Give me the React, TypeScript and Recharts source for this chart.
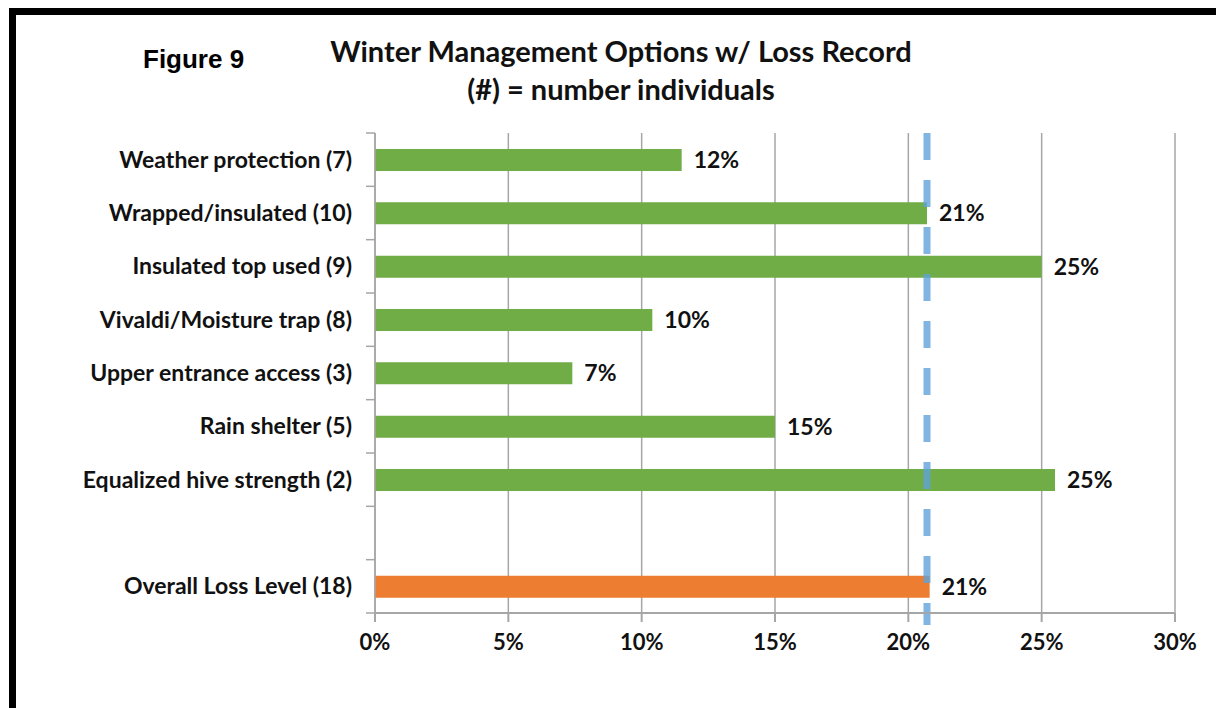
import {
  Bar,
  BarChart,
  CartesianGrid,
  Cell,
  LabelList,
  ReferenceLine,
  XAxis,
  YAxis,
} from "recharts";

const categories = [
  "Weather protection (7)",
  "Wrapped/insulated (10)",
  "Insulated top used (9)",
  "Vivaldi/Moisture trap (8)",
  "Upper entrance access (3)",
  "Rain shelter (5)",
  "Equalized hive strength (2)",
  "",
  "Overall Loss Level (18)",
];

// loss rate, percent
const lossPct = [11.5, 20.7, 25.0, 10.4, 7.4, 15.0, 25.5, null, 20.8];
const pctLabels = ["12%", "21%", "25%", "10%", "7%", "15%", "25%", "", "21%"];

const xTicks = [0, 5, 10, 15, 20, 25, 30];
const overallLevel = 20.7;

const chartData = categories.map((name, i) => ({
  name,
  value: lossPct[i],
  label: pctLabels[i],
}));

const FONT = "Lato, 'Open Sans', sans-serif";
const AXIS_GREY = "#a6a6a6";
const LABEL_GAP = 23;

// excel puts the category ticks between the bars, not on them
function CategoryTick(props: any) {
  const { x, y, payload, index } = props;
  const half = payload.offset ?? 0;
  const axisX = x + LABEL_GAP;
  const last = index === categories.length - 1;
  return (
    <g>
      <line x1={axisX - 9} x2={axisX} y1={y - half} y2={y - half} stroke={AXIS_GREY} strokeWidth={1.5} />
      {last && (
        <line x1={axisX - 9} x2={axisX} y1={y + half} y2={y + half} stroke={AXIS_GREY} strokeWidth={1.5} />
      )}
      <text
        x={x}
        y={y}
        dy="0.355em"
        textAnchor="end"
        fill="#111"
        fontFamily={FONT}
        fontWeight={700}
        fontSize={23}
      >
        {payload.value}
      </text>
    </g>
  );
}

function DashedLevel(props: any) {
  const top = Math.min(props.y1, props.y2);
  const bottom = Math.max(props.y1, props.y2);
  return (
    <line
      x1={props.x1}
      x2={props.x2}
      y1={top}
      y2={bottom + 12}
      stroke="#5fa3d8"
      strokeOpacity={0.8}
      strokeWidth={7}
      strokeDasharray="27 20"
    />
  );
}

export default function App() {
  return (
    <div
      style={{
        position: "absolute",
        left: 0,
        top: 0,
        width: 1216,
        height: 708,
        background: "#fff",
        overflow: "hidden",
      }}
    >
      <div
        style={{
          position: "absolute",
          left: 9,
          top: 8,
          width: 1216,
          height: 720,
          borderTop: "7px solid #000",
          borderLeft: "7px solid #000",
        }}
      />
      <div
        style={{
          position: "absolute",
          left: 143,
          top: 46,
          fontFamily: "'Liberation Sans', Arial, sans-serif",
          fontWeight: 700,
          fontSize: 26,
          lineHeight: "26px",
        }}
      >
        Figure 9
      </div>
      <div
        style={{
          position: "absolute",
          left: 321,
          top: 32,
          width: 600,
          textAlign: "center",
          fontFamily: FONT,
          fontWeight: 700,
          fontSize: 29,
          lineHeight: "38px",
          color: "#111",
        }}
      >
        <div>Winter Management Options w/ Loss Record</div>
        <div>(#) = number individuals</div>
      </div>
      <BarChart
        width={1216}
        height={708}
        data={chartData}
        layout="vertical"
        margin={{ top: 133, right: 41, bottom: 55, left: 0 }}
        style={{ position: "absolute", left: 0, top: 0 }}
      >
        <CartesianGrid horizontal={false} stroke={AXIS_GREY} strokeWidth={1.5} />
        <XAxis
          type="number"
          domain={[0, 30]}
          ticks={xTicks}
          tickFormatter={(v: number) => `${v}%`}
          stroke={AXIS_GREY}
          strokeWidth={2}
          tickSize={9}
          tickMargin={12}
          height={40}
          tick={{ fill: "#111", fontFamily: FONT, fontWeight: 700, fontSize: 22 }}
        />
        <YAxis
          type="category"
          dataKey="name"
          width={375}
          stroke={AXIS_GREY}
          strokeWidth={1.5}
          tickLine={false}
          tickSize={0}
          tickMargin={LABEL_GAP}
          interval={0}
          tick={CategoryTick}
        />
        <Bar dataKey="value" barSize={22} isAnimationActive={false}>
          {chartData.map((d, i) => (
            <Cell key={d.name + i} fill={i === chartData.length - 1 ? "#ed7d31" : "#70ad47"} />
          ))}
          <LabelList
            dataKey="label"
            position="right"
            offset={12}
            style={{ fill: "#111", fontFamily: FONT, fontWeight: 700, fontSize: 23 }}
          />
        </Bar>
        <ReferenceLine x={overallLevel} shape={DashedLevel} />
      </BarChart>
    </div>
  );
}
